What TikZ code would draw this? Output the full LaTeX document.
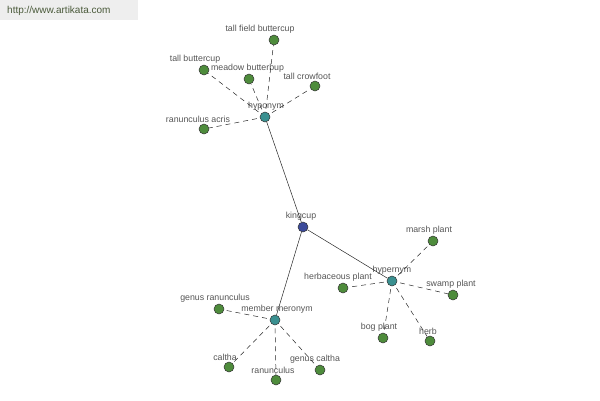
\documentclass[tikz,border=0pt]{standalone}
\usepackage{fontspec}
\setmainfont{Liberation Sans}
\usetikzlibrary{graphs}
\definecolor{leafgreen}{HTML}{4E8C3C}
\definecolor{hubteal}{HTML}{3A9090}
\definecolor{rootblue}{HTML}{3B4A9A}
\definecolor{labelgray}{HTML}{555555}
\definecolor{urlgreen}{HTML}{4A5A3A}
\tikzset{
    x=1pt, y=-1pt,
    word/.style 2 args={circle,draw=black!80,line width=0.5pt,minimum size=10pt,inner sep=0pt,
        label={[lbl,xshift=#2pt]90:#1}},
    leaf/.style 2 args={word={#1}{#2},fill=leafgreen},
    hub/.style 2 args={word={#1}{#2},fill=hubteal},
    root/.style 2 args={word={#1}{#2},fill=rootblue},
    lbl/.style={font=\fontsize{8.8}{9}\selectfont,text=labelgray,inner sep=0.5pt,
        label distance=0.5pt},
    rel/.style={draw=black!85,line width=0.5pt},
    sub/.style={draw=black!85,line width=0.5pt,dash pattern=on 5pt off 4pt,dash phase=6pt},
}

\begin{document}
\begin{tikzpicture}
            \useasboundingbox (0,0) rectangle (600,400);
            \fill[gray!13] (0,0) rectangle (138,20);
            \node[anchor=west,inner sep=0pt,text=urlgreen,font=\fontsize{10}{12}\selectfont] (url) at (7,11) {http://www.artikata.com};

            % centre and relations
            \node[root={kingcup}{-2}] (kingcup) at (303,227) {};
            \node[hub={hyponym}{1}] (hypo) at (265,117) {};
            \node[hub={hypernym}{0}] (hyper) at (392,281) {};
            \node[hub={member meronym}{2}] (mero) at (275,320) {};

            % hyponym
            \node[leaf={tall field buttercup}{-14}] (tallfield) at (274,40) {};
            \node[leaf={tall buttercup}{-9}] (tallbutter) at (204,70) {};
            \node[leaf={meadow butterbup}{-1.5}] (meadow) at (249,79) {};
            \node[leaf={tall crowfoot}{-8}] (crowfoot) at (315,86) {};
            \node[leaf={ranunculus acris}{-6}] (acris) at (204,129) {};

            % hypernym
            \node[leaf={marsh plant}{-4}] (marsh) at (433,241) {};
            \node[leaf={herbaceous plant}{-5}] (herbaceous) at (343,288) {};
            \node[leaf={swamp plant}{-2}] (swamp) at (453,295) {};
            \node[leaf={bog plant}{-4}] (bog) at (383,338) {};
            \node[leaf={herb}{-2}] (herb) at (430,341) {};

            % member meronym
            \node[leaf={genus ranunculus}{-4}] (genusran) at (219,309) {};
            \node[leaf={caltha}{-4}] (caltha) at (229,367) {};
            \node[leaf={ranunculus}{-3}] (ranunculus) at (276,380) {};
            \node[leaf={genus caltha}{-5}] (genuscal) at (320,370) {};

            \graph[use existing nodes] {
                kingcup --[rel] {hypo, hyper, mero};
                hypo --[sub] {tallfield, tallbutter, meadow, crowfoot, acris};
                hyper --[sub] {marsh, herbaceous, swamp, bog, herb};
                mero --[sub] {genusran, caltha, ranunculus, genuscal};
            } ;
        \end{tikzpicture}
\end{document}
